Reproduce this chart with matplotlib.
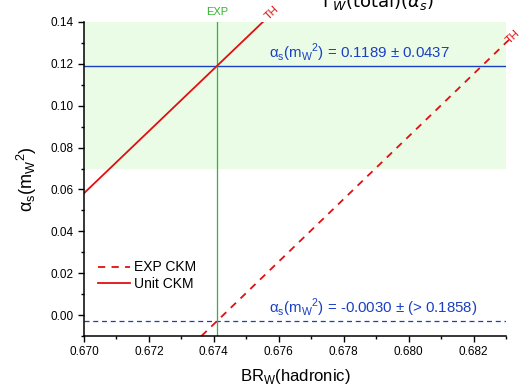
import matplotlib.pyplot as plt
import numpy as np

plt.rcParams['font.family'] = ['Liberation Sans', 'DejaVu Sans']

# lines
br_unit = [0.6700, 0.67551]      # Unit CKM (solid)
as_unit = [0.0582, 0.1400]
br_exp = [0.67362, 0.6832]       # EXP CKM (dashed)
as_exp = [-0.0100, 0.1331]

br_measured = 0.67409            # EXP vertical line
as_unit_fit = 0.1189
as_exp_fit = -0.0030
band = [0.07, 0.14]              # green band

xlim = [0.670, 0.683]
ylim = [-0.01, 0.14]

alpha_lbl = r'α$_\mathregular{s}$(m$_\mathregular{W}$$^\mathregular{2}$)'

fig = plt.figure(figsize=[5.29, 3.9], dpi=100)
ax = fig.add_axes([0.1588, 0.1385, 0.7977, 0.8051])

ax.axhspan(band[0], band[1], color='#ebfce6', lw=0, zorder=0)
ax.axhline(as_unit_fit, color='#1a3fc4', lw=1.0)
ax.axhline(as_exp_fit, color='#1a3fc4', lw=0.9, ls=(0, (4, 3)))
ax.axvline(br_measured, color='#33b533', lw=0.9)
ax.plot(br_exp, as_exp, color='#e01010', lw=1.3, ls=(0, (4, 3.5)), label='EXP CKM', clip_on=False)
ax.plot(br_unit, as_unit, color='#e01010', lw=1.3, label='Unit CKM')

ax.set_xlim(xlim)
ax.set_ylim(ylim)
ax.set_xticks(np.arange(0.670, 0.6821, 0.002))
ax.set_xticks(np.arange(0.670, 0.6831, 0.001), minor=True)
ax.set_yticks(np.arange(0.0, 0.1401, 0.02))
ax.set_yticks(np.arange(-0.01, 0.1401, 0.01), minor=True)
ax.xaxis.set_major_formatter(plt.FormatStrFormatter('%.3f'))
ax.yaxis.set_major_formatter(plt.FormatStrFormatter('%.2f'))
ax.tick_params(labelsize=8.5, direction='out', length=4, width=1)
ax.tick_params(which='minor', direction='out', length=2.5, width=1)
for s in ['top', 'right']:
    ax.spines[s].set_visible(False)
for s in ['left', 'bottom']:
    ax.spines[s].set_linewidth(1.1)

ax.set_xlabel(r'BR$_\mathregular{W}$(hadronic)', fontsize=12, labelpad=6)
ax.set_ylabel(alpha_lbl, fontsize=13, labelpad=8)

ax.text(0.67849, 0.1197, alpha_lbl + ' = 0.1189 ± 0.0437',
        color='#1a3fc4', fontsize=10.8, ha='center', va='bottom')
ax.text(0.67891, -0.0021, alpha_lbl + ' = -0.0030 ± (> 0.1858)',
        color='#1a3fc4', fontsize=10.8, ha='center', va='bottom')
ax.text(br_measured, 0.1425, 'EXP', color='#33b533', fontsize=8, ha='center', va='bottom')
ax.text(0.67553, 0.1405, 'TH', color='#e01010', fontsize=8, rotation=44, ha='left', va='bottom')
ax.text(0.68295, 0.1287, 'TH', color='#e01010', fontsize=8, rotation=44, ha='left', va='bottom')

ax.legend(loc='lower left', bbox_to_anchor=(0.02, 0.125), frameon=False, fontsize=10,
          handlelength=2.3, handletextpad=0.3, labelspacing=0.2, borderaxespad=0)

fig.text(0.715, 0.995, r'$\Gamma_W(\mathrm{total})(\alpha_s)$', fontsize=13, ha='center', va='center')

fig.savefig('out.png', dpi=100)
